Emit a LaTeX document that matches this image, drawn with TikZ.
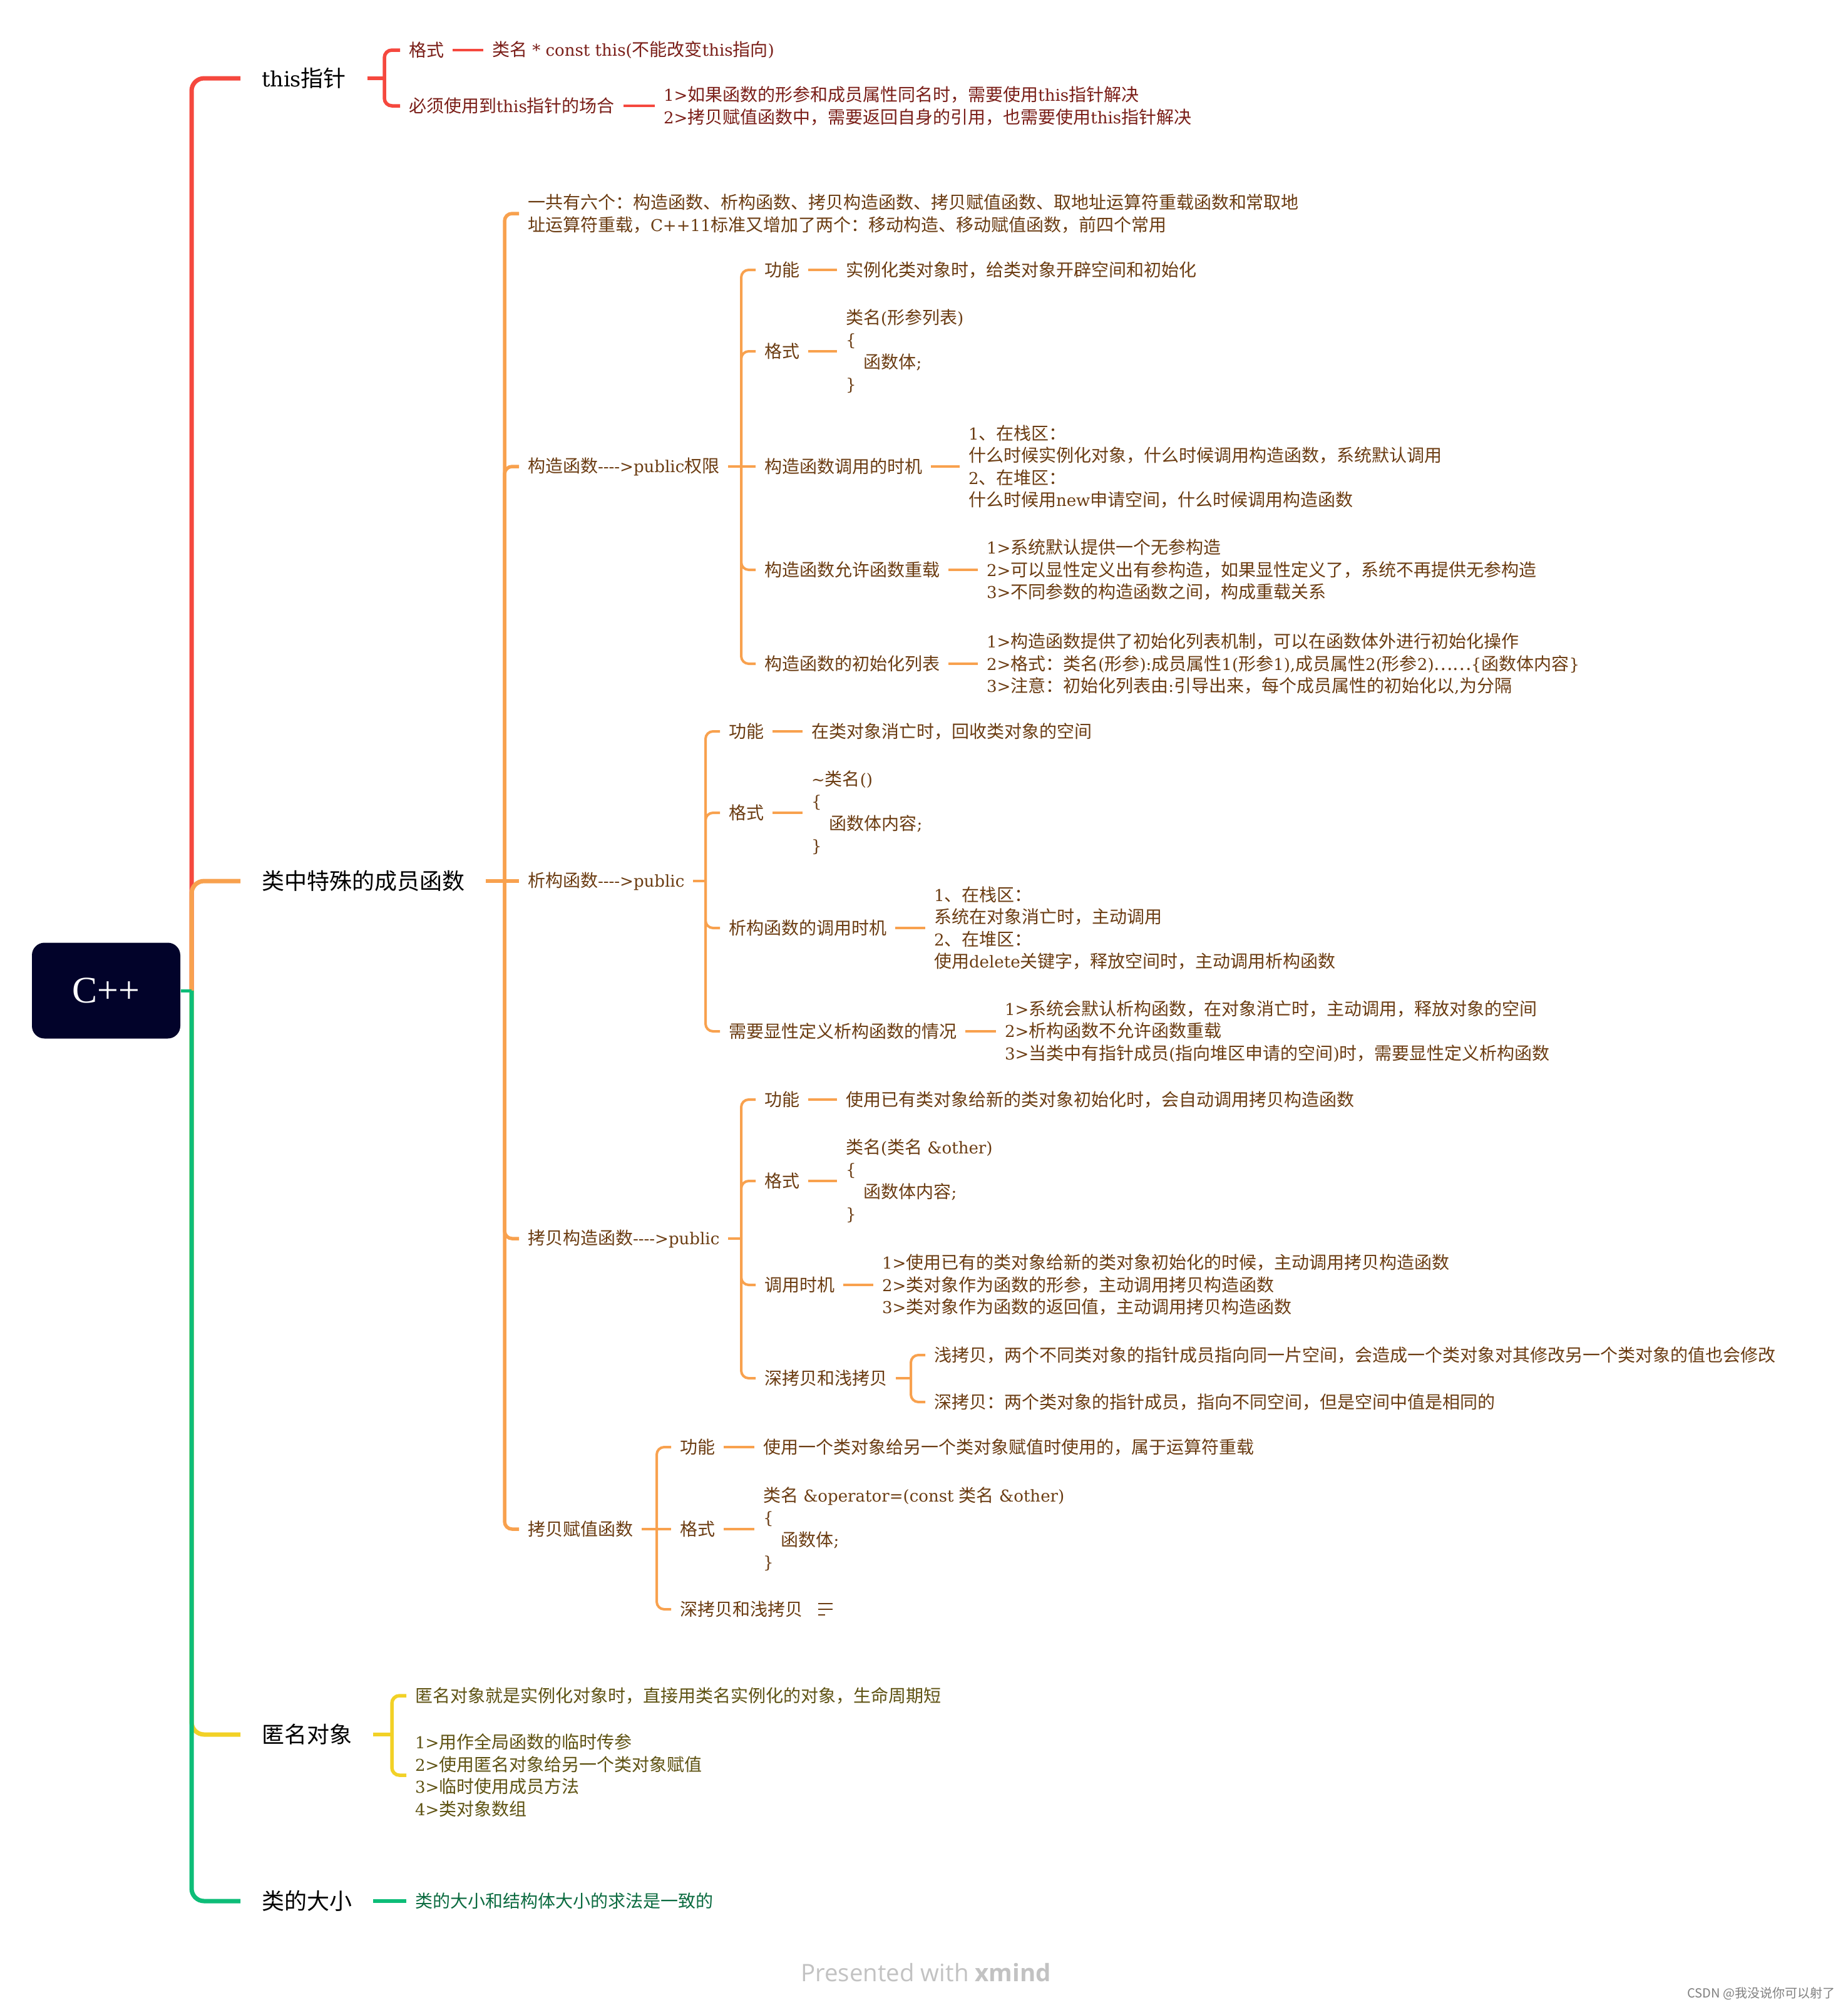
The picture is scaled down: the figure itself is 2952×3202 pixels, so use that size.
\documentclass[tikz,border=0pt]{standalone}
\usepackage{fontspec}
\setmainfont{DejaVu Serif}[Scale=0.93]
\newfontfamily\latinfont{DejaVu Serif}[Scale=0.93]
\newfontfamily\cjkfont{Noto Sans CJK SC}
\newfontfamily\rootfont{Liberation Serif}
\newfontfamily\footfont{Open Sans}

% Chinese characters switch to the CJK font, other text stays serif
\XeTeXinterchartokenstate=1
\newXeTeXintercharclass\cjkclass
\newcount\cjkcnt
\def\setcjkrange#1#2{\cjkcnt=#1 \loop\ifnum\cjkcnt<#2 \XeTeXcharclass\cjkcnt=\cjkclass \advance\cjkcnt by 1 \repeat}
\setcjkrange{"3000}{"3040}
\setcjkrange{"4E00}{"A000}
\setcjkrange{"FF00}{"FFF0}
\XeTeXcharclass"2026=\cjkclass
\XeTeXinterchartoks 0 \cjkclass = {\cjkfont}
\XeTeXinterchartoks 4095 \cjkclass = {\cjkfont}
\XeTeXinterchartoks \cjkclass 0 = {\latinfont}
\XeTeXinterchartoks \cjkclass 4095 = {\latinfont}

\definecolor{rootnavy}{HTML}{02032A}
\definecolor{xred}{HTML}{F5483E}
\definecolor{xorange}{HTML}{F8A14E}
\definecolor{xyellow}{HTML}{F2D126}
\definecolor{xgreen}{HTML}{0DBD78}
\definecolor{tred}{HTML}{7A1E18}
\definecolor{tbrown}{HTML}{6B3C12}
\definecolor{tolive}{HTML}{5E5212}
\definecolor{tgreen}{HTML}{0B6B40}
\definecolor{footgray}{HTML}{C2C2C2}

\begin{document}
\begin{tikzpicture}[x=0.25pt, y=-0.25pt,
    rootbox/.style={fill=rootnavy, text=white, rounded corners=5pt, minimum width=59.25pt,
      minimum height=38.25pt, inner sep=0pt, font=\rootfont\fontsize{15pt}{18pt}\selectfont},
    topic/.style={anchor=west, inner sep=0pt, outer xsep=8.5pt, text=black,
      font=\fontsize{9pt}{11pt}\selectfont},
    sub/.style={anchor=west, inner sep=0pt, outer xsep=3.5pt, align=left,
      font=\fontsize{7pt}{8.875pt}\selectfont},
    leafred/.style={sub, text=tred},
    leafbrown/.style={sub, text=tbrown},
    leafolive/.style={sub, text=tolive},
    leafgreen/.style={sub, text=tgreen},
    lvone/.style={line width=1.75pt, rounded corners=5pt},
    lvtwo/.style={line width=1.375pt, rounded corners=3pt},
    lvthree/.style={line width=1pt, rounded corners=3pt}]

    \fill[white] (0,0) rectangle (2952,3202);
    \useasboundingbox (0,0) rectangle (2952,3202);

    % Root and top topics
    \node[rootbox] (cpp) at (169.5,1582) {C++};
    \coordinate (trunk) at (306,1582);
    \node[topic] (this) at (384,125) {this指针};
    \node[topic] (smf) at (384,1407) {类中特殊的成员函数};
    \node[topic] (anon) at (384,2770) {匿名对象};
    \node[topic] (size) at (384,3036) {类的大小};

    % Trunk
    \draw[lvone, xred] (trunk) |- (this.west);
    \draw[lvone, xorange] (trunk) |- (smf.west);
    \draw[lvone, xyellow] (trunk) |- (anon.west);
    \draw[lvone, xgreen] (trunk) |- (size.west);
    \draw[xgreen, line width=1.25pt] (cpp.east) -- (trunk);

    % this pointer
    \node[leafred] (thisfmt) at (639,80) {格式};
    \node[leafred] (thisuse) at (639,169) {必须使用到this指针的场合};
    \node[leafred] (thisfmt-txt) at (772,80) {类名 * const this(不能改变this指向)};
    \node[leafred] (thisuse-txt) at (1046,169) {1>如果函数的形参和成员属性同名时，需要使用this指针解决\\2>拷贝赋值函数中，需要返回自身的引用，也需要使用this指针解决};
    \coordinate (sthis) at (614,125);
    \draw[lvtwo, xred] (this.east) -- (sthis);
    \foreach \c in {thisfmt,thisuse} \draw[lvtwo, xred] (sthis) |- (\c.west);
    \foreach \c in {thisfmt,thisuse} \draw[lvthree, xred] (\c.east) -- (\c-txt.west);

    % Special member functions
    \node[leafbrown] (six) at (829,341) {一共有六个：构造函数、析构函数、拷贝构造函数、拷贝赋值函数、取地址运算符重载函数和常取地\\址运算符重载，C++11标准又增加了两个：移动构造、移动赋值函数，前四个常用};
    \node[leafbrown] (ctor) at (829,745) {构造函数-{}-{}-{}->public权限};
    \node[leafbrown] (dtor) at (829,1407) {析构函数-{}-{}-{}->public};
    \node[leafbrown] (cctor) at (829,1978) {拷贝构造函数-{}-{}-{}->public};
    \node[leafbrown] (assign) at (829,2442) {拷贝赋值函数};
    \coordinate (ssmf) at (806,1407);
    \draw[lvtwo, xorange] (smf.east) -- (dtor.west);
    \foreach \c in {six,ctor,cctor,assign} \draw[lvtwo, xorange] (ssmf) |- (\c.west);

    % Constructor
    \node[leafbrown] (cfun) at (1207,431) {功能};
    \node[leafbrown] (cfmt) at (1207,561) {格式};
    \node[leafbrown] (ctime) at (1207,745) {构造函数调用的时机};
    \node[leafbrown] (cover) at (1207,910) {构造函数允许函数重载};
    \node[leafbrown] (cinit) at (1207,1060) {构造函数的初始化列表};
    \node[leafbrown] (cfun-txt) at (1337,431) {实例化类对象时，给类对象开辟空间和初始化};
    \node[leafbrown] (cfmt-txt) at (1337,561) {类名(形参列表)\\\{\\\hspace*{1.1em}函数体;\\\}};
    \node[leafbrown] (ctime-txt) at (1533,745) {1、在栈区：\\什么时候实例化对象，什么时候调用构造函数，系统默认调用\\2、在堆区：\\什么时候用new申请空间，什么时候调用构造函数};
    \node[leafbrown] (cover-txt) at (1562,910) {1>系统默认提供一个无参构造\\2>可以显性定义出有参构造，如果显性定义了，系统不再提供无参构造\\3>不同参数的构造函数之间，构成重载关系};
    \node[leafbrown] (cinit-txt) at (1562,1060) {1>构造函数提供了初始化列表机制，可以在函数体外进行初始化操作\\2>格式：类名(形参):成员属性1(形参1),成员属性2(形参2)……\{函数体内容\}\\3>注意：初始化列表由:引导出来，每个成员属性的初始化以,为分隔};
    \coordinate (sctor) at (1184,745);
    \draw[lvthree, xorange] (ctor.east) -- (ctime.west);
    \foreach \c in {cfun,cfmt,cover,cinit} \draw[lvthree, xorange] (sctor) |- (\c.west);
    \foreach \c in {cfun,cfmt,ctime,cover,cinit} \draw[lvthree, xorange] (\c.east) -- (\c-txt.west);

    % Destructor
    \node[leafbrown] (dfun) at (1150,1168) {功能};
    \node[leafbrown] (dfmt) at (1150,1298) {格式};
    \node[leafbrown] (dtime) at (1150,1482) {析构函数的调用时机};
    \node[leafbrown] (dneed) at (1150,1647) {需要显性定义析构函数的情况};
    \node[leafbrown] (dfun-txt) at (1282,1168) {在类对象消亡时，回收类对象的空间};
    \node[leafbrown] (dfmt-txt) at (1282,1298) {\textasciitilde 类名()\\\{\\\hspace*{1.1em}函数体内容;\\\}};
    \node[leafbrown] (dtime-txt) at (1478,1482) {1、在栈区：\\系统在对象消亡时，主动调用\\2、在堆区：\\使用delete关键字，释放空间时，主动调用析构函数};
    \node[leafbrown] (dneed-txt) at (1591,1647) {1>系统会默认析构函数，在对象消亡时，主动调用，释放对象的空间\\2>析构函数不允许函数重载\\3>当类中有指针成员(指向堆区申请的空间)时，需要显性定义析构函数};
    \coordinate (sdtor) at (1127,1407);
    \draw[lvthree, xorange] (dtor.east) -- (sdtor);
    \foreach \c in {dfun,dfmt,dtime,dneed} \draw[lvthree, xorange] (sdtor) |- (\c.west);
    \foreach \c in {dfun,dfmt,dtime,dneed} \draw[lvthree, xorange] (\c.east) -- (\c-txt.west);

    % Copy constructor
    \node[leafbrown] (kfun) at (1207,1756) {功能};
    \node[leafbrown] (kfmt) at (1207,1886) {格式};
    \node[leafbrown] (ktime) at (1207,2052) {调用时机};
    \node[leafbrown] (kdeep) at (1207,2201) {深拷贝和浅拷贝};
    \node[leafbrown] (kfun-txt) at (1337,1756) {使用已有类对象给新的类对象初始化时，会自动调用拷贝构造函数};
    \node[leafbrown] (kfmt-txt) at (1337,1886) {类名(类名 \&other)\\\{\\\hspace*{1.1em}函数体内容;\\\}};
    \node[leafbrown] (ktime-txt) at (1395,2052) {1>使用已有的类对象给新的类对象初始化的时候，主动调用拷贝构造函数\\2>类对象作为函数的形参，主动调用拷贝构造函数\\3>类对象作为函数的返回值，主动调用拷贝构造函数};
    \node[leafbrown] (kshallow) at (1478,2164) {浅拷贝，两个不同类对象的指针成员指向同一片空间，会造成一个类对象对其修改另一个类对象的值也会修改};
    \node[leafbrown] (kdeepc) at (1478,2239) {深拷贝：两个类对象的指针成员，指向不同空间，但是空间中值是相同的};
    \coordinate (scctor) at (1184,1978);
    \coordinate (skdeep) at (1455,2201);
    \draw[lvthree, xorange] (cctor.east) -- (scctor);
    \foreach \c in {kfun,kfmt,ktime,kdeep} \draw[lvthree, xorange] (scctor) |- (\c.west);
    \foreach \c in {kfun,kfmt,ktime} \draw[lvthree, xorange] (\c.east) -- (\c-txt.west);
    \draw[lvthree, xorange] (kdeep.east) -- (skdeep);
    \foreach \c in {kshallow,kdeepc} \draw[lvthree, xorange] (skdeep) |- (\c.west);

    % Copy assignment
    \node[leafbrown] (afun) at (1072,2311) {功能};
    \node[leafbrown] (afmt) at (1072,2442) {格式};
    \node[leafbrown] (adeep) at (1072,2570) {深拷贝和浅拷贝};
    \node[leafbrown] (afun-txt) at (1205,2311) {使用一个类对象给另一个类对象赋值时使用的，属于运算符重载};
    \node[leafbrown] (afmt-txt) at (1205,2442) {类名 \&operator=(const 类名 \&other)\\\{\\\hspace*{1.1em}函数体;\\\}};
    \coordinate (sassign) at (1049,2442);
    \draw[lvthree, xorange] (assign.east) -- (afmt.west);
    \foreach \c in {afun,adeep} \draw[lvthree, xorange] (sassign) |- (\c.west);
    \foreach \c in {afun,afmt} \draw[lvthree, xorange] (\c.east) -- (\c-txt.west);
    % folded branch mark
    \draw[tbrown, line width=0.6pt] (1307,2561) -- (1330,2561) (1307,2570) -- (1330,2570) (1307,2579) -- (1318,2579);

    % Anonymous objects
    \node[leafolive] (anondef) at (649,2708) {匿名对象就是实例化对象时，直接用类名实例化的对象，生命周期短};
    \node[leafolive] (anonuse) at (649,2835) {1>用作全局函数的临时传参\\2>使用匿名对象给另一个类对象赋值\\3>临时使用成员方法\\4>类对象数组};
    \coordinate (sanon) at (626,2770);
    \draw[lvtwo, xyellow] (anon.east) -- (sanon);
    \foreach \c in {anondef,anonuse} \draw[lvtwo, xyellow] (sanon) |- (\c.west);

    % Class size
    \node[leafgreen] (size-txt) at (649,3036) {类的大小和结构体大小的求法是一致的};
    \draw[lvtwo, xgreen] (size.east) -- (size-txt.west);

    % Footer
    \node[text=footgray, font=\footfont\fontsize{9.6pt}{11pt}\selectfont] (pres) at (1479,3150) {Presented with \textbf{xmind}};
    \node[anchor=east, inner sep=0pt, text=gray, font=\cjkfont\fontsize{5pt}{6pt}\selectfont] (csdn) at (2932,3184) {CSDN @我没说你可以射了};
\end{tikzpicture}
\end{document}
